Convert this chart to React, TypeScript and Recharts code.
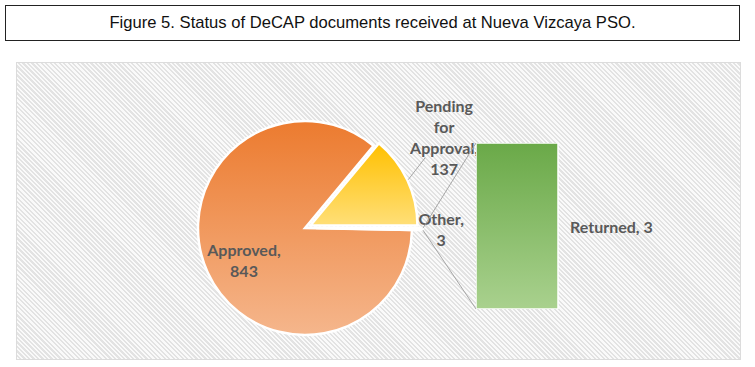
import React from "react";
import { PieChart, Pie, Cell, BarChart, Bar, XAxis, YAxis, LabelList } from "recharts";

const pieNames = ["Other", "Pending for Approval", "Approved"];
const pieValues = [3, 137, 843];
const barNames = ["Returned"];
const barValues = [3];

const W = 755;
const H = 367;
const CX = 305;
const CY = 228;
const R = 107;
const EXPLODE = [11, 6, 0];
const BAR_LEFT = 476;
const BAR_TOP = 143;
const BAR_W = 82;
const BAR_H = 166;
const LABEL_FONT = "Lato, 'Open Sans', sans-serif";
const LABEL_COLOR = "#595959";
const LABEL_SIZE = 16;
const GRAD = ["gradOther", "gradPending", "gradApproved"];

const pieData = pieNames.map((name, i) => ({ name, value: pieValues[i] }));
const barData = barNames.map((name, i) => ({ name, value: barValues[i] }));

const total = pieValues.reduce((a, b) => a + b, 0);
const START = (-360 * pieValues[0]) / total;
const RAD = Math.PI / 180;

// slice angles, counter-clockwise from 3 o'clock
const sliceAngles = (() => {
  let a = START;
  return pieValues.map((v) => {
    const s = a;
    a += (360 * v) / total;
    return { start: s, end: a, mid: (s + a) / 2 };
  });
})();

const centers = sliceAngles.map((s, i) => ({
  x: CX + EXPLODE[i] * Math.cos(s.mid * RAD),
  y: CY - EXPLODE[i] * Math.sin(s.mid * RAD),
}));

function wrap(text: string, max: number) {
  const out: string[] = [];
  let cur = "";
  text.split(" ").forEach((w) => {
    if (cur && (cur + " " + w).length > max) {
      out.push(cur);
      cur = w;
    } else cur = cur ? cur + " " + w : w;
  });
  if (cur) out.push(cur);
  return out;
}

// label position for each slice: [radius factor, angle shift]
const labelPos = [
  { r: 1.17, da: 0.5 },
  { r: 1.5, da: 8.5 },
  { r: 0.64, da: 2.5 },
];

function makeLabel(target: number) {
  return (p: any) => {
    if (p.index !== target) return null;
    const c = centers[target];
    const ang = (sliceAngles[target].mid + labelPos[target].da) * RAD;
    const lx = c.x + R * labelPos[target].r * Math.cos(ang);
    const ly = c.y - R * labelPos[target].r * Math.sin(ang);
    const lines = [...wrap(pieNames[target] + ",", 10), String(pieValues[target])];
    const lh = 21;
    const y0 = ly - ((lines.length - 1) * lh) / 2;
    return (
      <text
        x={lx}
        y={y0}
        textAnchor="middle"
        dominantBaseline="central"
        fill={LABEL_COLOR}
        fontFamily={LABEL_FONT}
        fontWeight={700}
        fontSize={LABEL_SIZE}
      >
        {lines.map((l, k) => (
          <tspan key={k} x={lx} y={y0 + k * lh}>
            {l}
          </tspan>
        ))}
      </text>
    );
  };
}

function ReturnedLabel(p: any) {
  const { x, y, width, height, value, index } = p;
  return (
    <text
      x={x + width + 12}
      y={y + height / 2}
      dominantBaseline="central"
      fill={LABEL_COLOR}
      fontFamily={LABEL_FONT}
      fontWeight={700}
      fontSize={LABEL_SIZE}
    >
      {barNames[index] + ", " + value}
    </text>
  );
}

export default function App() {
  const oc = centers[0];
  const pc = centers[1];
  const upper = { x: oc.x + R * Math.cos(sliceAngles[0].end * RAD), y: oc.y - R * Math.sin(sliceAngles[0].end * RAD) };
  const lower = { x: oc.x + R * Math.cos(sliceAngles[0].start * RAD), y: oc.y - R * Math.sin(sliceAngles[0].start * RAD) };
  const leadA = sliceAngles[1].mid * RAD;
  const leadStart = { x: pc.x + (R + 1) * Math.cos(leadA), y: pc.y - (R + 1) * Math.sin(leadA) };
  const leadEnd = { x: leadStart.x + 17, y: leadStart.y - 22 };

  return (
    <div style={{ position: "absolute", left: 0, top: 0, width: W, height: H, background: "#fff" }}>
      <div
        style={{
          position: "absolute",
          left: 5,
          top: 5,
          width: 733,
          height: 34,
          border: "1px solid #222",
          display: "flex",
          alignItems: "center",
          justifyContent: "center",
          fontFamily: "'Liberation Sans', Arial, sans-serif",
          fontSize: 16.6,
          color: "#111",
        }}
      >
        Figure 5. Status of DeCAP documents received at Nueva Vizcaya PSO.
      </div>
      <div
        style={{
          position: "absolute",
          left: 16,
          top: 62,
          width: 723,
          height: 296,
          border: "1px solid #dcdcdc",
          background: "repeating-linear-gradient(45deg, #fafafa 0px, #fafafa 1.6px, #e3e3e3 1.6px, #e3e3e3 3.2px)",
        }}
      />
      <div style={{ position: "absolute", left: 0, top: 0 }}>
        <PieChart width={W} height={H} margin={{ top: 0, right: 0, bottom: 0, left: 0 }}>
          <defs>
            <linearGradient id="gradApproved" x1="0" y1="0" x2="0" y2="1">
              <stop offset="0%" stopColor="#ec7b2f" />
              <stop offset="100%" stopColor="#f5b68c" />
            </linearGradient>
            <linearGradient id="gradPending" x1="0" y1="0" x2="0" y2="1">
              <stop offset="0%" stopColor="#ffc000" />
              <stop offset="100%" stopColor="#ffdf78" />
            </linearGradient>
            <linearGradient id="gradOther" x1="0" y1="0" x2="0" y2="1">
              <stop offset="0%" stopColor="#a5a5a5" />
              <stop offset="100%" stopColor="#c9c9c9" />
            </linearGradient>
          </defs>
          {[2, 1, 0].map((t) => (
            <Pie
              key={t}
              data={pieData}
              dataKey="value"
              nameKey="name"
              cx={centers[t].x}
              cy={centers[t].y}
              innerRadius={0}
              outerRadius={R}
              startAngle={START}
              endAngle={START + 360}
              label={makeLabel(t)}
              labelLine={false}
              isAnimationActive={false}
            >
              {pieData.map((_, i) => (
                <Cell
                  key={i}
                  fill={i === t ? `url(#${GRAD[i]})` : "none"}
                  stroke={i === t ? "#fff" : "none"}
                  strokeWidth={i === t ? 2.5 : 0}
                />
              ))}
            </Pie>
          ))}
        </PieChart>
      </div>
      <div style={{ position: "absolute", left: BAR_LEFT, top: BAR_TOP }}>
        <BarChart
          width={BAR_W + 130}
          height={BAR_H}
          data={barData}
          margin={{ top: 0, right: 130, bottom: 0, left: 0 }}
          barCategoryGap={0}
        >
          <defs>
            <linearGradient id="gradReturned" x1="0" y1="0" x2="0" y2="1">
              <stop offset="0%" stopColor="#6aa948" />
              <stop offset="100%" stopColor="#a9d18e" />
            </linearGradient>
          </defs>
          <XAxis dataKey="name" hide />
          <YAxis hide domain={[0, Math.max(...barValues)]} />
          <Bar dataKey="value" fill="url(#gradReturned)" stroke="#fff" strokeWidth={1.5} isAnimationActive={false}>
            <LabelList dataKey="value" content={ReturnedLabel} />
          </Bar>
        </BarChart>
      </div>
      <svg style={{ position: "absolute", left: 0, top: 0, pointerEvents: "none" }} width={W} height={H}>
        <line x1={upper.x} y1={upper.y} x2={BAR_LEFT} y2={BAR_TOP} stroke="#a6a6a6" strokeWidth={1} />
        <line x1={lower.x} y1={lower.y} x2={BAR_LEFT} y2={BAR_TOP + BAR_H} stroke="#a6a6a6" strokeWidth={1} />
        <line x1={leadStart.x} y1={leadStart.y} x2={leadEnd.x} y2={leadEnd.y} stroke="#a6a6a6" strokeWidth={1} />
      </svg>
    </div>
  );
}
